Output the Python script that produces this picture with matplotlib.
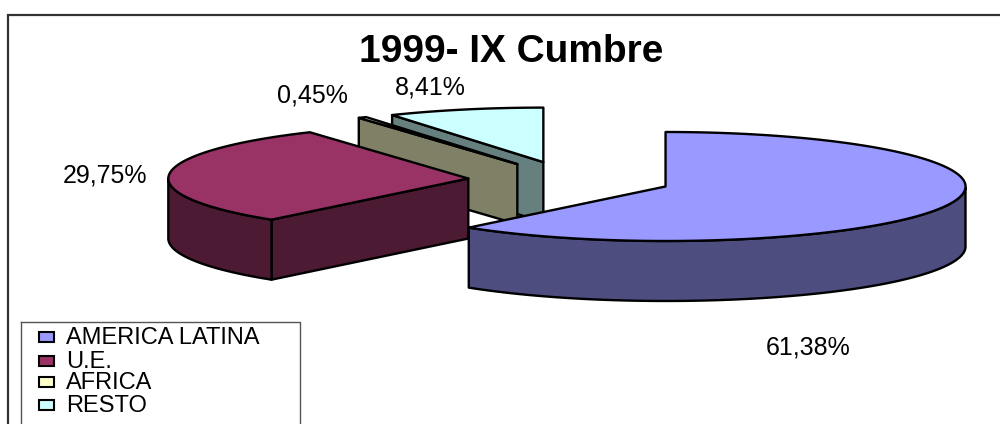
import numpy as np
import matplotlib
matplotlib.use("Agg")
import matplotlib.pyplot as plt

plt.rcParams['font.family'] = ['Liberation Sans', 'DejaVu Sans']

TITLE = "1999- IX Cumbre"
categories = ["AMERICA LATINA", "U.E.", "AFRICA", "RESTO"]
values = [61.38, 29.75, 0.45, 8.41]
value_labels = ["61,38%", "29,75%", "0,45%", "8,41%"]

top_colors = ["#9999FF", "#993366", "#FFFFCC", "#CCFFFF"]
side_colors = ["#4D4D80", "#4D1A33", "#808066", "#668080"]
label_pos = [(808, 347), (105, 175), (312, 96), (430, 88)]
legend_y = [337, 361, 382, 405]

# pie geometry in pixels
CX, CY = 570, 180
RX, RY = 300, 54.5
DEPTH = 60
EXPLODE = 102
LW = 1.7


def point(cx, cy, deg):
    a = np.radians(deg)
    return cx + RX * np.cos(a), cy - RY * np.sin(a)


def draw_wedge(ax, start, end, top, side):
    # start > end, runs clockwise
    mid = np.radians((start + end) / 2)
    cx = CX + EXPLODE * np.cos(mid)
    cy = CY - EXPLODE * np.sin(mid) * RY / RX
    ang = np.linspace(start, end, 200)
    xs, ys = point(cx, cy, ang)

    # radial wall on the start edge, seen only when it points to the left
    if 90 < start % 360 < 270:
        wx, wy = point(cx, cy, start)
        ax.fill([cx, wx, wx, cx], [cy, wy, wy + DEPTH, cy + DEPTH],
                facecolor=side, edgecolor="black", lw=LW, joinstyle="round", zorder=2)

    # outer rim, only the part in the front half
    front = ang % 360 >= 180
    if front.any():
        rx, ry = xs[front], ys[front]
        ax.fill(np.r_[rx, rx[::-1]], np.r_[ry, ry[::-1] + DEPTH],
                facecolor=side, edgecolor="black", lw=LW, joinstyle="round", zorder=2)

    ax.fill(np.r_[cx, xs], np.r_[cy, ys], facecolor=top, edgecolor="black",
            lw=LW, joinstyle="round", zorder=3)


fig = plt.figure(figsize=(10, 4.24), dpi=100)
ax = fig.add_axes([0, 0, 1, 1])
ax.set_xlim(0, 1000)
ax.set_ylim(424, 0)
ax.axis("off")

# chart frame, right and bottom sides are cut off in the original
ax.plot([8, 8, 1000], [424, 15, 15], color="#333333", lw=1.6, solid_joinstyle="miter")

# angles clockwise from 12 o'clock
sweeps = np.array(values) / sum(values) * 360
starts = 90 - np.r_[0, np.cumsum(sweeps)[:-1]]
ends = starts - sweeps

# painter's order, back slices first
for i in [3, 2, 1, 0]:
    draw_wedge(ax, starts[i], ends[i], top_colors[i], side_colors[i])

ax.text(511, 52, TITLE, fontsize=28, fontweight="bold", ha="center", va="center", color="black")

for txt, (x, y) in zip(value_labels, label_pos):
    ax.text(x, y, txt, fontsize=18, ha="center", va="center", color="black")

# legend
ax.plot([21, 21], [424, 322], color="#555555", lw=1, zorder=5)
ax.plot([21, 300, 300], [322, 322, 424], color="#555555", lw=1, zorder=5)
for name, y, c in zip(categories, legend_y, top_colors):
    ax.fill([39, 54, 54, 39], [y - 5, y - 5, y + 5, y + 5], facecolor=c,
            edgecolor="black", lw=1.5, zorder=5)
    ax.text(66, y + 1, name, fontsize=17, ha="left", va="center", color="black", zorder=5)

fig.savefig("out.png", dpi=100)
